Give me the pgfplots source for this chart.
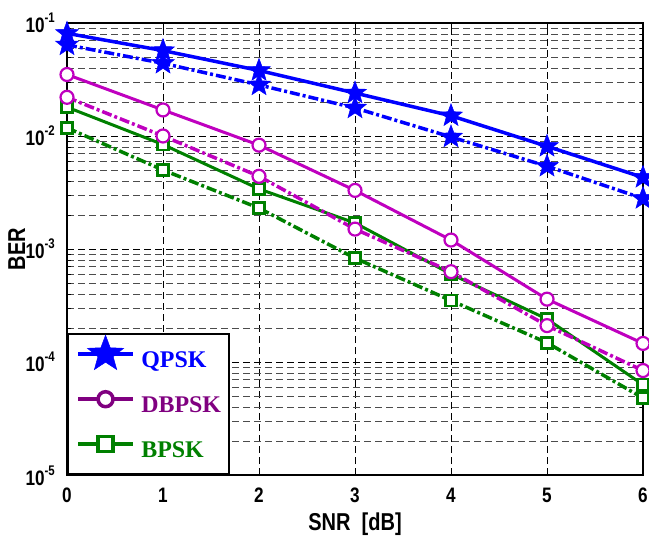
\documentclass[border=0pt]{standalone}
\usepackage{fontspec}
\setmainfont{Liberation Sans}
\newfontfamily\tfont[FakeStretch=0.82]{Liberation Sans}
\newfontfamily\lfont{Liberation Serif}
\usepackage{pgfplots}
\pgfplotsset{compat=1.18}
\definecolor{qblue}{RGB}{0,0,255}
\definecolor{dmag}{RGB}{191,0,191}
\definecolor{dpur}{RGB}{128,0,128}
\definecolor{bgreen}{RGB}{0,128,0}
\pgfdeclareplotmark{pstar}{%
 \pgfpathmoveto{\pgfpointpolar{90}{\pgfplotmarksize}}%
 \pgfpathlineto{\pgfpointpolar{126}{0.42\pgfplotmarksize}}%
 \pgfpathlineto{\pgfpointpolar{162}{\pgfplotmarksize}}%
 \pgfpathlineto{\pgfpointpolar{198}{0.42\pgfplotmarksize}}%
 \pgfpathlineto{\pgfpointpolar{234}{\pgfplotmarksize}}%
 \pgfpathlineto{\pgfpointpolar{270}{0.42\pgfplotmarksize}}%
 \pgfpathlineto{\pgfpointpolar{306}{\pgfplotmarksize}}%
 \pgfpathlineto{\pgfpointpolar{342}{0.42\pgfplotmarksize}}%
 \pgfpathlineto{\pgfpointpolar{18}{\pgfplotmarksize}}%
 \pgfpathlineto{\pgfpointpolar{54}{0.42\pgfplotmarksize}}%
 \pgfpathclose
 \pgfusepathqfillstroke}
\pgfplotstableread{
x y
0 0.081
1 0.057
2 0.038
3 0.024
4 0.0151
5 0.0081
6 0.0043
}\qpsks
\pgfplotstableread{
x y
0 0.064
1 0.044
2 0.0283
3 0.0177
4 0.0098
5 0.0054
6 0.0028
}\qpskd
\pgfplotstableread{
x y
0 0.035
1 0.017
2 0.0083
3 0.0033
4 0.0012
5 0.00036
6 0.000146
}\dbpsks
\pgfplotstableread{
x y
0 0.022
1 0.010
2 0.0044
3 0.0015
4 0.00063
5 0.00021
6 0.000084
}\dbpskd
\pgfplotstableread{
x y
0 0.018
1 0.0084
2 0.0034
3 0.0017
4 0.0006
5 0.00024
6 0.000063
}\bpsks
\pgfplotstableread{
x y
0 0.0118
1 0.0050
2 0.0023
3 0.00083
4 0.00035
5 0.000148
6 0.000048
}\bpskd
\newcommand{\tl}[1]{{\tfont\bfseries\fontsize{21}{21}\selectfont 10\raisebox{10bp}{\fontsize{14}{14}\selectfont -#1}}}
\begin{document}
\begin{tikzpicture}[x=1bp,y=1bp]
\path[use as bounding box] (0,0) rectangle (649,540);
\begin{axis}[
  at={(67bp,65bp)}, anchor=south west,
  scale only axis, width=576bp, height=452bp,
  ymode=log, xmin=0, xmax=6, ymin=1e-5, ymax=1e-1,
  xtick={0,1,2,3,4,5,6},
  xticklabels={0,1,2,3,4,5,6},
  ytick={1e-5,1e-4,1e-3,1e-2,1e-1},
  yticklabels={\tl{5},\tl{4},\tl{3},\tl{2},\tl{1}},
  xticklabel style={font=\tfont\bfseries\fontsize{21}{21}\selectfont, anchor=north, inner sep=0pt, yshift=-13bp},
  yticklabel style={anchor=base east, inner sep=0pt, xshift=-12bp, yshift=-10bp},
  xlabel={SNR\ \ [dB]},
  ylabel={BER},
  xlabel style={font=\tfont\bfseries\fontsize{24.5}{24.5}\selectfont, at={(axis description cs:0.5,-0.084)}, anchor=north, inner sep=0pt},
  ylabel style={font=\tfont\bfseries\fontsize{24.5}{24.5}\selectfont, at={(axis description cs:-0.0729,0.5)}, anchor=base, inner sep=0pt},
  xmajorgrids, ymajorgrids, yminorgrids,
  major grid style={black, line width=0.8bp, dash pattern=on 7bp off 4bp},
  minor grid style={black!70, line width=0.8bp, dash pattern=on 7bp off 4bp},
  tick align=inside, major tick length=6bp, minor tick length=3.5bp,
  tick style={black, line width=0.8bp},
  axis line style={line width=1.8bp},
  clip=false,
  legend style={at={(0,0)}, anchor=south west, draw=black, line width=1.6bp, fill=white,
    font=\lfont\bfseries\fontsize{24}{24}\selectfont, inner xsep=8bp, inner ysep=1bp,
    nodes={inner sep=0pt}, row sep=0bp},
  legend cell align=left,
  /tikz/every odd column/.append style={column sep=6bp},
  legend image code/.code={\path[draw=none,fill=none] (0bp,-22.5bp) rectangle (55bp,22.5bp); \draw[mark repeat=2,mark phase=2,#1] plot coordinates {(0bp,6.5bp) (27.5bp,6.5bp) (55bp,6.5bp)};},
]
% BPSK
\addplot[bgreen, line width=3bp, mark=square*, mark size=5.5bp, mark options={solid, fill=white, line width=2.5bp}, forget plot] table[x=x,y=y] {\bpsks};
\addplot[bgreen, line width=3.5bp, dash pattern=on 10bp off 3bp on 3bp off 3bp, mark=square*, mark size=5.5bp, mark options={solid, fill=white, line width=2.5bp}, forget plot] table[x=x,y=y] {\bpskd};
% DBPSK
\addplot[dmag, line width=3bp, mark=*, mark size=6.5bp, mark options={solid, fill=white, line width=2.2bp}, forget plot] table[x=x,y=y] {\dbpsks};
\addplot[dmag, line width=3.5bp, dash pattern=on 10bp off 3bp on 3bp off 3bp, mark=*, mark size=6.5bp, mark options={solid, fill=white, line width=2.2bp}, forget plot] table[x=x,y=y] {\dbpskd};
% QPSK
\addplot[qblue, line width=3.5bp, mark=pstar, mark size=12bp, mark options={solid, fill=qblue, line width=0.5bp}, forget plot] table[x=x,y=y] {\qpsks};
\addplot[qblue, line width=3.5bp, dash pattern=on 10bp off 3bp on 3bp off 3bp, mark=pstar, mark size=12bp, mark options={solid, fill=qblue, line width=0.5bp}, forget plot] table[x=x,y=y] {\qpskd};
% legend
\addlegendimage{qblue, line width=4.5bp, mark=pstar, mark size=19bp, mark options={solid, fill=qblue, line width=0.5bp}}
\addlegendentry{\textcolor{qblue}{QPSK}}
\addlegendimage{dpur, line width=4.5bp, mark=*, mark size=7.5bp, mark options={solid, fill=white, line width=3.5bp}}
\addlegendentry{\textcolor{dpur}{DBPSK}}
\addlegendimage{bgreen, line width=4.5bp, mark=square*, mark size=7.5bp, mark options={solid, fill=white, line width=3.5bp}}
\addlegendentry{\textcolor{bgreen}{BPSK}}
\end{axis}
\end{tikzpicture}
\end{document}
